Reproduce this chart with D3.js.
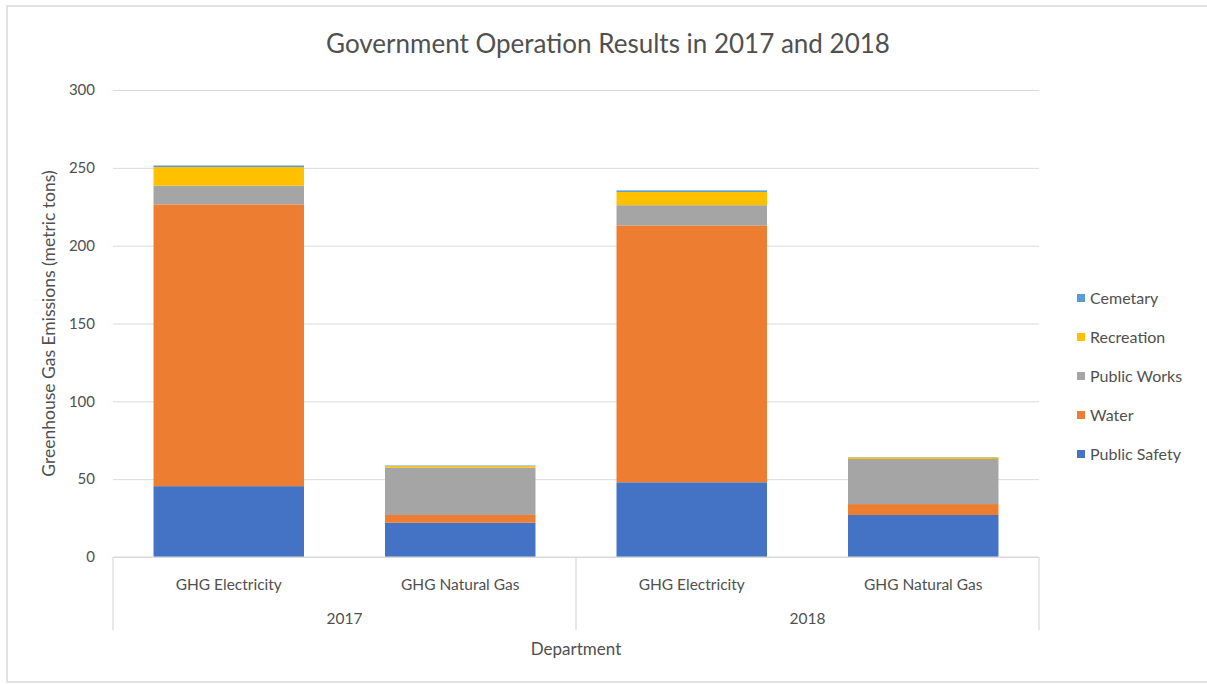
<!DOCTYPE html>
<html>
<head>
<meta charset="utf-8">
<script src="https://cdn.jsdelivr.net/npm/d3@7"></script>
<style>
  body { margin: 0; background: #fff; }
  text { font-family: Lato, "Open Sans", sans-serif; fill: #505050; }
</style>
</head>
<body>
<svg width="1207" height="684"></svg>
<script>
// data
const years = ["2017", "2018"];
const fuels = ["GHG Electricity", "GHG Natural Gas"];
const seriesNames = ["Public Safety", "Water", "Public Works", "Recreation", "Cemetary"];
const seriesColors = ["#4472C4", "#ED7D31", "#A5A5A5", "#FFC000", "#5B9BD5"];
const publicSafety = [45.5, 22, 48, 27];
const water = [181, 5, 165, 7];
const publicWorks = [12, 30.5, 13, 29];
const recreation = [12, 1, 8.5, 1];
const cemetary = [1, 0.3, 1, 0.2];
const yTicks = [0, 50, 100, 150, 200, 250, 300];

const svg = d3.select("svg");

// build table
let rows = [];
years.forEach((yr, i) => {
    fuels.forEach((f, j) => {
        let k = i * fuels.length + j;
        rows.push({
            key: yr + "|" + f, year: yr, fuel: f,
            "Public Safety": publicSafety[k],
            "Water": water[k],
            "Public Works": publicWorks[k],
            "Recreation": recreation[k],
            "Cemetary": cemetary[k]
        });
    });
});
let stacked = d3.stack().keys(seriesNames)(rows);

const plotLeft = 113, plotRight = 1039, plotTop = 90, plotBottom = 557;

let x = d3.scaleBand()
    .domain(rows.map(d => d.key))
    .range([plotLeft, plotRight])
    .paddingInner(0.35)
    .paddingOuter(0.175);
let y = d3.scaleLinear().domain([0, 300]).range([plotBottom, plotTop]);
let color = d3.scaleOrdinal().domain(seriesNames).range(seriesColors);

// frame
svg.append("rect")
    .attr("x", 7).attr("y", 6)
    .attr("width", 1220).attr("height", 676)
    .attr("fill", "none")
    .attr("stroke", "#d9d9d9")
    .attr("stroke-width", 1.5);

// gridlines + tick labels
let yAxis = svg.append("g")
    .attr("transform", `translate(${plotLeft},0)`)
    .call(d3.axisLeft(y).tickValues(yTicks).tickSize(-(plotRight - plotLeft)).tickPadding(18));
yAxis.select(".domain").remove();
yAxis.selectAll(".tick line").attr("stroke", "#d9d9d9");
yAxis.selectAll(".tick text")
    .attr("fill", "#505050")
    .style("font-size", "15px")
    .style("font-family", "Lato, sans-serif");

// bars
svg.append("g")
    .selectAll("g")
    .data(stacked)
    .join("g")
    .attr("fill", d => color(d.key))
    .selectAll("rect")
    .data(d => d)
    .join("rect")
    .attr("x", d => x(d.data.key))
    .attr("width", x.bandwidth())
    .attr("y", d => y(d[1]))
    .attr("height", d => y(d[0]) - y(d[1]));

// category axis box
let boxBottom = 630;
let axisG = svg.append("g").attr("stroke", "#d9d9d9").attr("stroke-width", 1.2);
axisG.append("line").attr("x1", plotLeft).attr("x2", plotRight).attr("y1", plotBottom).attr("y2", plotBottom);
let groupEdges = [plotLeft, (plotLeft + plotRight) / 2, plotRight];
groupEdges.forEach(e => {
    axisG.append("line").attr("x1", e).attr("x2", e).attr("y1", plotBottom).attr("y2", boxBottom);
});

svg.append("g")
    .selectAll("text")
    .data(rows)
    .join("text")
    .attr("x", d => x(d.key) + x.bandwidth() / 2)
    .attr("y", 590)
    .attr("text-anchor", "middle")
    .style("font-size", "15.5px")
    .text(d => d.fuel);

svg.append("g")
    .selectAll("text")
    .data(years)
    .join("text")
    .attr("x", (d, i) => groupEdges[i] + (groupEdges[i + 1] - groupEdges[i]) / 2)
    .attr("y", 624)
    .attr("text-anchor", "middle")
    .style("font-size", "15.5px")
    .text(d => d);

// titles
svg.append("text")
    .attr("x", 608).attr("y", 53)
    .attr("text-anchor", "middle")
    .style("font-size", "26px")
    .text("Government Operation Results in 2017 and 2018");

svg.append("text")
    .attr("x", 576).attr("y", 655)
    .attr("text-anchor", "middle")
    .style("font-size", "17px")
    .text("Department");

svg.append("text")
    .attr("transform", `translate(55,${(plotTop + plotBottom) / 2}) rotate(-90)`)
    .attr("text-anchor", "middle")
    .style("font-size", "17.5px")
    .text("Greenhouse Gas Emissions (metric tons)");

// legend, reversed order like the reference
let legendItems = seriesNames.slice().reverse();
let legend = svg.append("g")
    .selectAll("g")
    .data(legendItems)
    .join("g")
    .attr("transform", (d, i) => `translate(1077,${299 + i * 39})`);
legend.append("rect")
    .attr("x", 0).attr("y", -5)
    .attr("width", 8).attr("height", 8)
    .attr("fill", d => color(d));
legend.append("text")
    .attr("x", 13).attr("y", 5)
    .style("font-size", "16px")
    .text(d => d);
</script>
</body>
</html>
